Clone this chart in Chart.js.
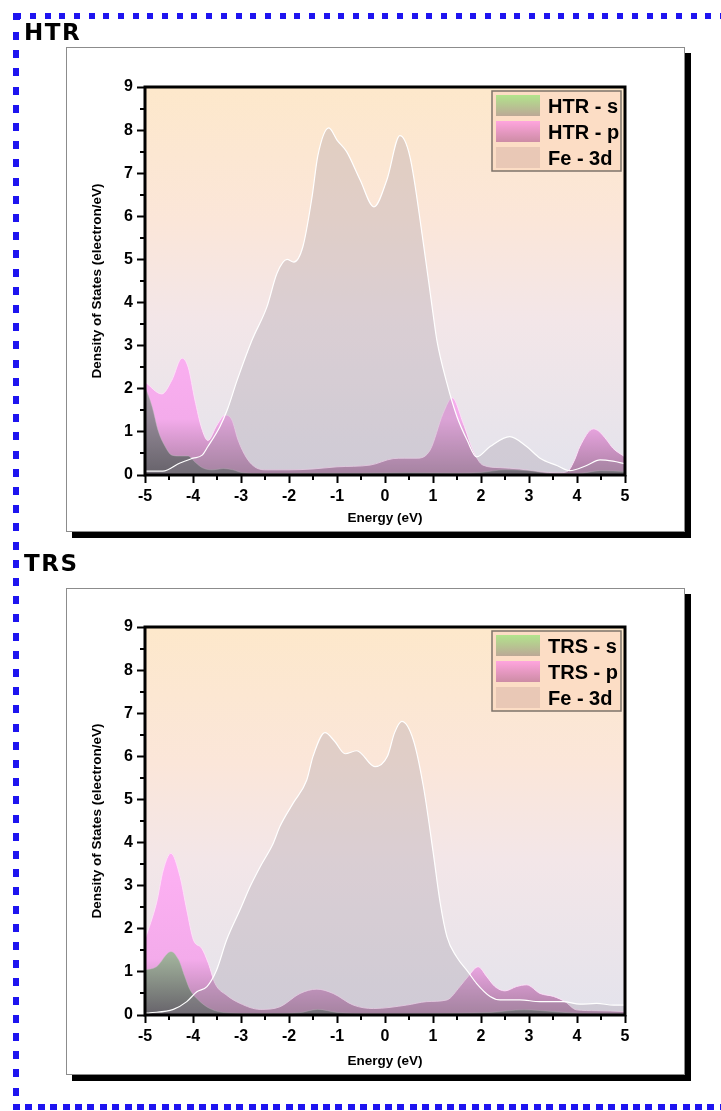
<!DOCTYPE html>
<html>
<head>
<meta charset="utf-8">
<script src="https://cdn.jsdelivr.net/npm/chart.js@4"></script>
<style>
  body { margin: 0; background: #fff; width: 721px; height: 1111px; overflow: hidden; position: relative; }
  #frame { position: absolute; left: 0; top: 0; }
  .tag { position: absolute; left: 24px; font: bold 23px "DejaVu Sans", Verdana, sans-serif; line-height: 23px; letter-spacing: 1.5px; color: #000; }
  .shadow { position: absolute; background: #000; }
  .panel { position: absolute; box-sizing: border-box; border: 1px solid #8c8c8c; background: #fff; }
  .panel canvas { display: block; }
</style>
</head>
<body>
<canvas id="frame" width="721" height="1111"></canvas>

<div class="tag" style="top:21px">HTR</div>
<div class="shadow" style="left:72px; top:53px; width:619px; height:485px"></div>
<div class="panel" style="left:66px; top:47px; width:619px; height:485px">
  <canvas id="htrChart" width="617" height="483"></canvas>
</div>

<div class="tag" style="top:552px">TRS</div>
<div class="shadow" style="left:72px; top:594px; width:619px; height:487px"></div>
<div class="panel" style="left:66px; top:588px; width:619px; height:487px">
  <canvas id="trsChart" width="617" height="485"></canvas>
</div>

<script>
// Axlar
const energyTicks = [-5, -4, -3, -2, -1, 0, 1, 2, 3, 4, 5];
const energyTickLabels = ['-5', '-4', '-3', '-2', '-1', '0', '1', '2', '3', '4', '5'];
const energyMinor = [-4.5, -3.5, -2.5, -1.5, -0.5, 0.5, 1.5, 2.5, 3.5, 4.5];
const dosTicks = [0, 1, 2, 3, 4, 5, 6, 7, 8, 9];
const dosTickLabels = ['0', '1', '2', '3', '4', '5', '6', '7', '8', '9'];
const dosMinor = [0.5, 1.5, 2.5, 3.5, 4.5, 5.5, 6.5, 7.5, 8.5];

// HTR
const htrLabels = ['HTR - s', 'HTR - p', 'Fe - 3d'];
const htrEnergyS = [-5, -4.85, -4.73, -4.58, -4.44, -4.27, -4.1, -3.96, -3.79, -3.58, -3.37, -3.17, -2.96, -2.5, -1.5, -0.5, 0.5, 1.5, 2.0, 2.5, 3.0, 3.5, 4.0, 4.5, 5.0];
const htrS = [2.05, 1.58, 1.04, 0.66, 0.46, 0.44, 0.44, 0.3, 0.16, 0.12, 0.15, 0.12, 0.05, 0.03, 0.04, 0.04, 0.05, 0.04, 0.06, 0.12, 0.1, 0.03, 0.03, 0.1, 0.08];
const htrEnergyP = [-5, -4.65, -4.44, -4.23, -4.1, -3.96, -3.82, -3.69, -3.5, -3.33, -3.19, -3.06, -2.88, -2.67, -2.46, -2.0, -1.5, -1.0, -0.31, 0.17, 0.4, 0.67, 0.94, 1.21, 1.4, 1.63, 1.83, 2.04, 2.4, 2.8, 3.2, 3.6, 3.8, 3.95, 4.06, 4.34, 4.45, 4.62, 4.75, 5.0];
const htrP = [2.16, 1.88, 2.2, 2.71, 2.5, 1.74, 1.09, 0.8, 1.16, 1.39, 1.28, 0.81, 0.39, 0.16, 0.12, 0.12, 0.14, 0.19, 0.23, 0.38, 0.39, 0.39, 0.58, 1.43, 1.79, 1.2, 0.58, 0.23, 0.17, 0.14, 0.08, 0.05, 0.08, 0.35, 0.66, 1.07, 1.02, 0.81, 0.62, 0.42];
const htrEnergyFe = [-5, -4.63, -4.27, -4.0, -3.81, -3.69, -3.44, -3.29, -3.08, -2.77, -2.46, -2.25, -2.04, -1.9, -1.71, -1.52, -1.4, -1.17, -1.0, -0.8, -0.52, -0.23, 0.04, 0.31, 0.52, 0.79, 1.0, 1.08, 1.29, 1.5, 1.71, 1.91, 2.19, 2.6, 2.95, 3.23, 3.58, 3.85, 4.2, 4.48, 4.75, 5.0];
const htrFe = [0.09, 0.09, 0.28, 0.39, 0.46, 0.66, 1.12, 1.5, 2.2, 3.13, 3.9, 4.68, 5.0, 4.94, 5.3, 6.45, 7.4, 8.05, 7.77, 7.5, 6.85, 6.22, 6.85, 7.87, 7.38, 5.45, 3.75, 3.13, 2.13, 1.35, 0.81, 0.42, 0.66, 0.89, 0.66, 0.39, 0.22, 0.1, 0.22, 0.35, 0.32, 0.26];

// TRS
const trsLabels = ['TRS - s', 'TRS - p', 'Fe - 3d'];
const trsEnergyS = [-5, -4.76, -4.46, -4.3, -4.17, -4.06, -3.89, -3.65, -3.3, -2.5, -1.8, -1.4, -1.0, -0.3, 0.5, 1.5, 2.2, 2.9, 3.5, 4.2, 5.0];
const trsS = [1.04, 1.12, 1.47, 1.28, 0.89, 0.58, 0.35, 0.15, 0.05, 0.03, 0.05, 0.13, 0.06, 0.03, 0.03, 0.04, 0.06, 0.12, 0.08, 0.03, 0.03];
const trsEnergyP = [-5, -4.76, -4.62, -4.46, -4.27, -4.13, -3.99, -3.82, -3.68, -3.54, -3.3, -3.02, -2.6, -2.19, -1.77, -1.42, -1.08, -0.66, -0.24, 0.45, 0.87, 1.29, 1.56, 1.75, 1.94, 2.12, 2.29, 2.5, 2.74, 2.95, 3.23, 3.51, 3.75, 3.99, 4.4, 5.0];
const trsP = [1.75, 2.6, 3.36, 3.75, 3.21, 2.44, 1.74, 1.55, 1.2, 0.73, 0.46, 0.27, 0.13, 0.19, 0.5, 0.6, 0.5, 0.23, 0.15, 0.23, 0.31, 0.35, 0.66, 0.92, 1.12, 0.89, 0.66, 0.56, 0.66, 0.7, 0.5, 0.43, 0.31, 0.12, 0.1, 0.08];
const trsEnergyFe = [-5, -4.9, -4.41, -4.13, -3.92, -3.71, -3.51, -3.3, -3.02, -2.81, -2.6, -2.33, -2.19, -1.91, -1.63, -1.5, -1.25, -1.05, -0.83, -0.59, -0.21, 0.05, 0.2, 0.35, 0.59, 0.8, 1.0, 1.15, 1.29, 1.49, 1.73, 1.91, 2.19, 2.4, 2.81, 3.23, 3.71, 4.06, 4.41, 4.76, 5.0];
const trsFe = [0.04, 0.05, 0.13, 0.31, 0.54, 0.66, 1.04, 1.74, 2.44, 2.98, 3.44, 3.98, 4.37, 4.92, 5.45, 6.0, 6.55, 6.35, 6.06, 6.13, 5.76, 6.0, 6.55, 6.81, 6.38, 5.3, 3.8, 2.6, 1.82, 1.35, 1.0, 0.73, 0.43, 0.35, 0.35, 0.31, 0.31, 0.25, 0.27, 0.23, 0.23];

/**
 * Ritar den blå prickade ramen runt hela bilden.
 */
function drawFrame() {
    const ctx = document.getElementById('frame').getContext('2d');
    ctx.fillStyle = '#1e14f0';
    ctx.fillRect(13, 13, 7, 7);
    for (let x = 15.3; x < 721; x += 14.68) ctx.fillRect(Math.round(x), 13, 6, 6);
    for (let y = 32; y < 1100; y += 18.2) ctx.fillRect(13, Math.round(y), 6, 8);
    for (let x = 13; x < 721; x += 12.4) ctx.fillRect(Math.round(x), 1104, 7, 6);
}

const pts = (xs, ys) => xs.map((x, i) => ({ x: x, y: ys[i] }));

// Vertikal gradient i dataenheter (värde -> färg)
function valueGradient(stops) {
    return function (context) {
        const chart = context.chart;
        const { ctx, chartArea, scales } = chart;
        if (!chartArea || !scales.y) return stops[stops.length - 1][1];
        const top = stops[stops.length - 1][0];
        const y0 = scales.y.getPixelForValue(0);
        const y1 = scales.y.getPixelForValue(top);
        const g = ctx.createLinearGradient(0, y0, 0, y1);
        stops.forEach(s => g.addColorStop(s[0] / top, s[1]));
        return g;
    };
}

const htrSFill = valueGradient([[0, 'rgba(95,95,100,0.9)'], [1.2, 'rgba(130,128,135,0.88)'], [2.2, 'rgba(160,160,160,0.85)']]);
const trsSFill = valueGradient([[0, 'rgba(95,95,100,0.9)'], [1.4, 'rgba(150,180,145,0.88)'], [2.6, 'rgba(175,215,150,0.88)']]);
const pFill = valueGradient([[0, 'rgba(160,110,150,0.85)'], [1.3, 'rgba(245,165,235,0.9)'], [3.8, 'rgba(255,172,245,0.92)']]);

const plotBackground = {
    id: 'plotBackground',
    beforeDatasetsDraw(chart) {
        const { ctx, chartArea: a } = chart;
        const g = ctx.createLinearGradient(0, a.top, 0, a.bottom);
        g.addColorStop(0, '#fde8cb');
        g.addColorStop(0.35, '#fbe6d9');
        g.addColorStop(0.6, '#f3e6e8');
        g.addColorStop(1, '#e4e3ec');
        ctx.save();
        ctx.fillStyle = g;
        ctx.fillRect(a.left, a.top, a.width, a.height);
        ctx.restore();
    }
};

const plotFrame = {
    id: 'plotFrame',
    afterDatasetsDraw(chart) {
        const { ctx, chartArea: a, scales } = chart;
        ctx.save();
        ctx.strokeStyle = '#000';
        ctx.lineWidth = 2;
        ctx.beginPath();
        energyMinor.forEach(v => {
            const px = Math.round(scales.x.getPixelForValue(v));
            ctx.moveTo(px, a.bottom);
            ctx.lineTo(px, a.bottom + 5);
        });
        dosMinor.forEach(v => {
            const py = Math.round(scales.y.getPixelForValue(v));
            ctx.moveTo(a.left - 5, py);
            ctx.lineTo(a.left, py);
        });
        ctx.stroke();
        ctx.lineWidth = 3;
        ctx.strokeRect(a.left, a.top, a.width, a.height);
        ctx.restore();
    }
};

// Legend med gradientrutor uppe till höger
const boxLegend = {
    id: 'boxLegend',
    afterDraw(chart) {
        const { ctx, chartArea: a } = chart;
        const w = 129, h = 80;
        const x0 = a.right - 4 - w, y0 = a.top + 4;
        const swatches = [
            ['rgb(178,228,140)', 'rgb(188,168,150)'],
            ['rgb(255,165,222)', 'rgb(205,140,165)'],
            ['rgb(233,200,182)', 'rgb(233,200,182)']
        ];
        ctx.save();
        ctx.fillStyle = 'rgb(252,221,197)';
        ctx.fillRect(x0, y0, w, h);
        ctx.strokeStyle = 'rgb(125,115,105)';
        ctx.lineWidth = 1.5;
        ctx.strokeRect(x0, y0, w, h);
        chart.data.datasets.forEach((ds, i) => {
            const ry = y0 + 4 + i * 26;
            const g = ctx.createLinearGradient(0, ry, 0, ry + 21);
            g.addColorStop(0, swatches[i][0]);
            g.addColorStop(1, swatches[i][1]);
            ctx.fillStyle = g;
            ctx.fillRect(x0 + 4, ry, 44, 21);
            ctx.fillStyle = '#000';
            ctx.font = 'bold 20px "Liberation Sans", Arial, sans-serif';
            ctx.textBaseline = 'alphabetic';
            ctx.fillText(ds.label, x0 + 56, ry + 18);
        });
        ctx.restore();
    }
};

const tickFont = { family: '"Liberation Sans", Arial, sans-serif', size: 16, weight: 'bold' };
const titleFont = { family: '"Liberation Sans", Arial, sans-serif', size: 13.5, weight: 'bold' };

/**
 * Skapar ett DOS-diagram.
 */
function createDosChart(id, labels, s, p, fe, sFill, padTop, xHeight) {
    const ctx = document.getElementById(id);
    new Chart(ctx, {
        type: 'line',
        data: {
            datasets: [
                { label: labels[0], data: s, order: 2, fill: 'origin', backgroundColor: sFill, borderColor: 'rgba(190,190,190,0.5)', borderWidth: 0.8 },
                { label: labels[1], data: p, order: 3, fill: 'origin', backgroundColor: pFill, borderColor: 'rgba(255,225,250,0.9)', borderWidth: 1 },
                { label: labels[2], data: fe, order: 1, fill: 'origin', backgroundColor: 'rgba(150,140,155,0.27)', borderColor: '#ffffff', borderWidth: 1.2 }
            ]
        },
        options: {
            responsive: false,
            animation: false,
            devicePixelRatio: 1,
            layout: { padding: { top: padTop, right: 59, left: 0, bottom: 0 } },
            elements: { point: { radius: 0 }, line: { cubicInterpolationMode: 'monotone' } },
            plugins: { legend: { display: false }, tooltip: { enabled: false } },
            scales: {
                x: {
                    type: 'linear', min: -5, max: 5,
                    afterBuildTicks: sc => { sc.ticks = energyTicks.map(v => ({ value: v })); },
                    afterFit: sc => { sc.height = xHeight; },
                    border: { display: false },
                    grid: { drawOnChartArea: false, drawTicks: true, tickLength: 8, tickWidth: 2, tickColor: '#000' },
                    ticks: { color: '#000', font: tickFont, padding: 4, maxRotation: 0, autoSkip: false,
                             callback: (v, i) => energyTickLabels[i] },
                    title: { display: true, text: 'Energy (eV)', color: '#000', font: titleFont, padding: { top: 0, bottom: 5 } }
                },
                y: {
                    type: 'linear', min: 0, max: 9,
                    afterBuildTicks: sc => { sc.ticks = dosTicks.map(v => ({ value: v })); },
                    afterFit: sc => { sc.width = 78; },
                    border: { display: false },
                    grid: { drawOnChartArea: false, drawTicks: true, tickLength: 8, tickWidth: 2, tickColor: '#000' },
                    ticks: { color: '#000', font: tickFont, padding: 4,
                             callback: (v, i) => dosTickLabels[i] },
                    title: { display: true, text: 'Density of States (electron/eV)', color: '#000', font: titleFont, padding: { top: 22, bottom: 0 } }
                }
            }
        },
        plugins: [plotBackground, plotFrame, boxLegend]
    });
}

drawFrame();
createDosChart('htrChart', htrLabels, pts(htrEnergyS, htrS), pts(htrEnergyP, htrP), pts(htrEnergyFe, htrFe), htrSFill, 39, 56);
createDosChart('trsChart', trsLabels, pts(trsEnergyS, trsS), pts(trsEnergyP, trsP), pts(trsEnergyFe, trsFe), trsSFill, 38, 59);
</script>
</body>
</html>
